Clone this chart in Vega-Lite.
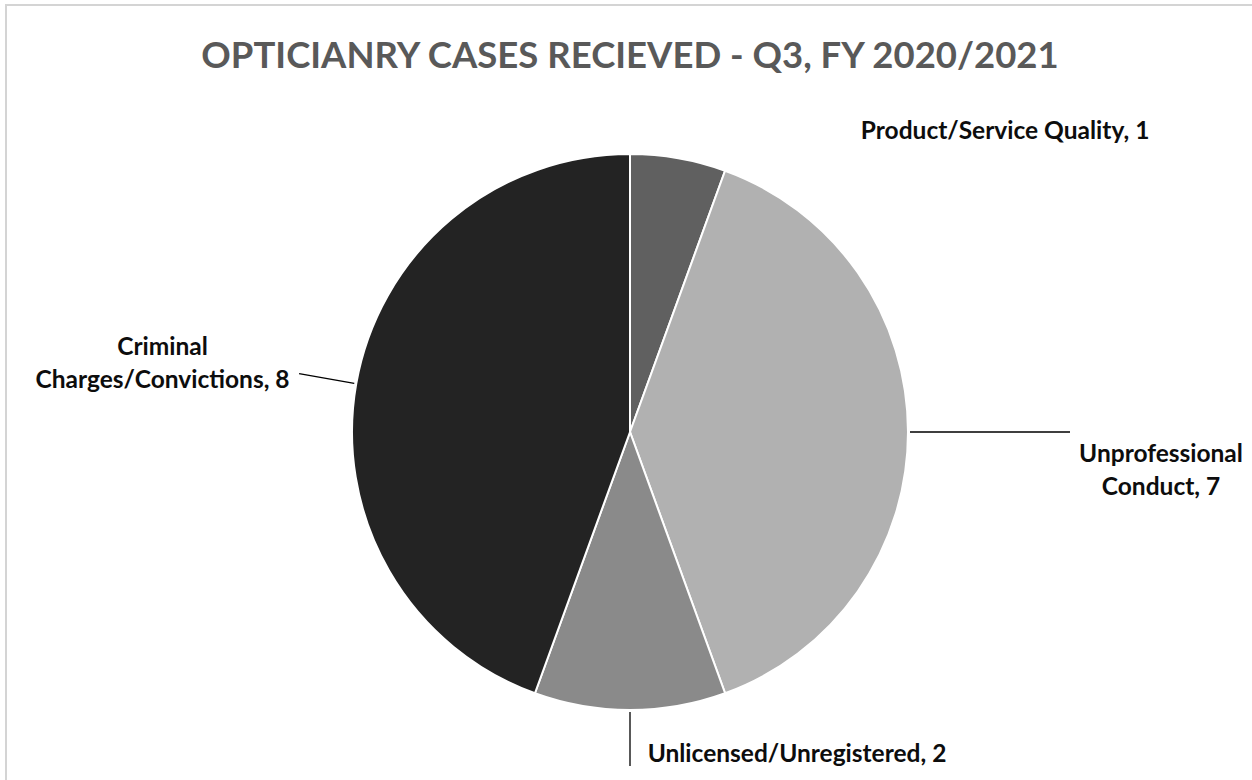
{
  "$schema": "https://vega.github.io/schema/vega-lite/v6.json",
  "width": 1248,
  "height": 854,
  "autosize": {"type": "none"},
  "padding": {"left": 6, "top": 5, "right": -2, "bottom": -79},
  "background": "white",
  "view": {"stroke": "#d4d4d4", "strokeWidth": 2},
  "title": {
    "text": "OPTICIANRY CASES RECIEVED - Q3, FY 2020/2021",
    "font": "Lato",
    "fontSize": 36.5,
    "fontWeight": "bold",
    "color": "#595959",
    "anchor": "middle",
    "frame": "group",
    "offset": -106,
    "baseline": "alphabetic"
  },
  "data": {
    "values": [
      {"category": "Product/Service Quality", "cases": 1, "label": "Product/Service Quality, 1"},
      {"category": "Unprofessional Conduct", "cases": 7, "label": "Unprofessional|Conduct, 7"},
      {"category": "Unlicensed/Unregistered", "cases": 2, "label": "Unlicensed/Unregistered, 2"},
      {"category": "Criminal Charges/Convictions", "cases": 8, "label": "Criminal|Charges/Convictions, 8"}
    ]
  },
  "transform": [{"window": [{"op": "row_number", "as": "rank"}]}],
  "encoding": {
    "theta": {"field": "cases", "type": "quantitative", "stack": true},
    "order": {"field": "rank", "type": "quantitative"},
    "detail": {"field": "category", "type": "nominal"}
  },
  "layer": [
    {
      "mark": {"type": "arc", "outerRadius": 278, "stroke": "white", "strokeWidth": 2},
      "encoding": {
        "color": {
          "field": "category",
          "type": "nominal",
          "scale": {
            "domain": ["Product/Service Quality", "Unprofessional Conduct", "Unlicensed/Unregistered", "Criminal Charges/Convictions"],
            "range": ["#606060", "#b1b1b1", "#8a8a8a", "#232323"]
          },
          "legend": null
        }
      }
    },
    {
      "mark": {"type": "arc", "innerRadius": 280, "outerRadius": 334, "padAngle": 3, "fillOpacity": 0, "stroke": "black", "strokeWidth": 1.3},
      "encoding": {
        "strokeOpacity": {"condition": {"test": "datum.category === 'Unlicensed/Unregistered'", "value": 1}, "value": 0}
      }
    },
    {
      "mark": {"type": "arc", "innerRadius": 280, "outerRadius": 440, "padAngle": 3, "fillOpacity": 0, "stroke": "black", "strokeWidth": 1.3},
      "encoding": {
        "strokeOpacity": {"condition": {"test": "datum.category === 'Unprofessional Conduct'", "value": 1}, "value": 0}
      }
    },
    {
      "mark": {"type": "arc", "innerRadius": 280, "outerRadius": 336, "padAngle": 3, "fillOpacity": 0, "stroke": "black", "strokeWidth": 1.3},
      "encoding": {
        "strokeOpacity": {"condition": {"test": "datum.category === 'Criminal Charges/Convictions'", "value": 1}, "value": 0}
      }
    },
    {
      "mark": {"type": "text", "radius": 300, "dx": 323, "dy": -5, "align": "center", "baseline": "middle", "font": "Lato", "fontSize": 24.5, "fontWeight": "bold", "color": "#0d0d0d", "lineBreak": "|", "lineHeight": 33},
      "encoding": {
        "text": {"condition": {"test": "datum.category === 'Product/Service Quality'", "field": "label"}, "value": ""}
      }
    },
    {
      "mark": {"type": "text", "radius": 300, "dx": 231, "dy": 23, "align": "center", "baseline": "middle", "font": "Lato", "fontSize": 24.5, "fontWeight": "bold", "color": "#0d0d0d", "lineBreak": "|", "lineHeight": 33},
      "encoding": {
        "text": {"condition": {"test": "datum.category === 'Unprofessional Conduct'", "field": "label"}, "value": ""}
      }
    },
    {
      "mark": {"type": "text", "radius": 300, "dx": 167, "dy": 23, "align": "center", "baseline": "middle", "font": "Lato", "fontSize": 24.5, "fontWeight": "bold", "color": "#0d0d0d", "lineBreak": "|", "lineHeight": 33},
      "encoding": {
        "text": {"condition": {"test": "datum.category === 'Unlicensed/Unregistered'", "field": "label"}, "value": ""}
      }
    },
    {
      "mark": {"type": "text", "radius": 300, "dx": -172, "dy": -32, "align": "center", "baseline": "middle", "font": "Lato", "fontSize": 24.5, "fontWeight": "bold", "color": "#0d0d0d", "lineBreak": "|", "lineHeight": 33},
      "encoding": {
        "text": {"condition": {"test": "datum.category === 'Criminal Charges/Convictions'", "field": "label"}, "value": ""}
      }
    }
  ]
}
